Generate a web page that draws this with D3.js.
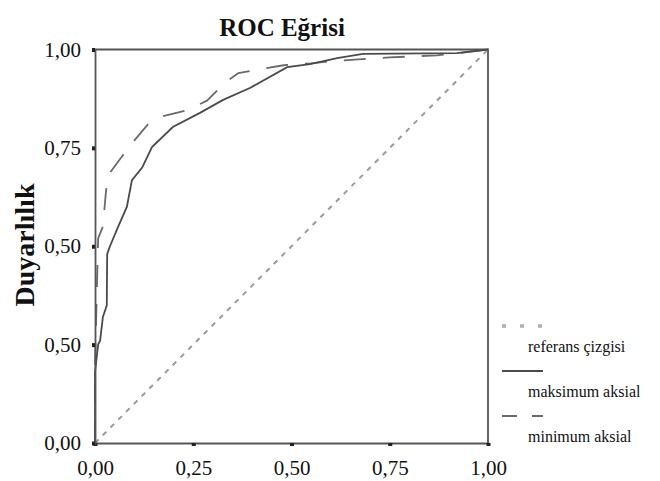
<!DOCTYPE html>
<html><head><meta charset="utf-8">
<script src="https://cdn.jsdelivr.net/npm/d3@7"></script>
<style>
body{margin:0;background:#fff;}
svg{display:block;}
</style></head>
<body>
<svg id="c" width="660" height="481"></svg>
<script>
// ---- data ----
const titleText = "ROC Eğrisi";
const yAxisTitle = "Duyarlılık";
const tickValues = [0, 0.25, 0.5, 0.75, 1];
const xTickLabels = ["0,00", "0,25", "0,50", "0,75", "1,00"];
const yTickLabels = ["0,00", "0,50", "0,50", "0,75", "1,00"];
const seriesNames = ["referans çizgisi", "maksimum aksial", "minimum aksial"];

const refFPR = [0, 1];
const refTPR = [0, 1];

const maxFPR = [0, 0, 0.008, 0.013, 0.02, 0.03, 0.031, 0.038, 0.059, 0.081, 0.094, 0.12, 0.145, 0.198, 0.267, 0.326, 0.394, 0.489, 0.547, 0.616, 0.682, 0.921, 1];
const maxTPR = [0, 0.18, 0.25, 0.26, 0.32, 0.35, 0.48, 0.50, 0.55, 0.60, 0.668, 0.70, 0.752, 0.803, 0.839, 0.872, 0.902, 0.955, 0.963, 0.978, 0.989, 0.991, 1];

const minFPR = [0, 0, 0.005, 0.008, 0.02, 0.028, 0.033, 0.07, 0.097, 0.135, 0.17, 0.235, 0.285, 0.33, 0.365, 0.42, 0.48, 0.55, 0.6, 0.67, 0.75, 0.82, 0.87, 0.92, 1];
const minTPR = [0, 0.20, 0.40, 0.52, 0.55, 0.64, 0.68, 0.73, 0.765, 0.81, 0.83, 0.846, 0.87, 0.915, 0.94, 0.95, 0.96, 0.965, 0.97, 0.975, 0.98, 0.983, 0.985, 0.99, 1];

// ---- drawing ----
const FONT = "'Liberation Serif', 'Times New Roman', serif";
const svg = d3.select("#c");
const x = d3.scaleLinear().domain([0, 1]).range([95, 488]);
const y = d3.scaleLinear().domain([0, 1]).range([443, 49.5]);

svg.append("path")
  .attr("d", `M${x(0)},${y(1)}H${x(1)}V${y(0)}`)
  .attr("fill", "none").attr("stroke", "#555").attr("stroke-width", 1.8);

const line = d3.line().x(d => x(d[0])).y(d => y(d[1]));

svg.append("path")
  .datum(refFPR.map((v, i) => [v, refTPR[i]]))
  .attr("d", line).attr("fill", "none")
  .attr("stroke", "#9a9a9a").attr("stroke-width", 2).attr("stroke-dasharray", "5,6");

svg.append("path")
  .datum(minFPR.map((v, i) => [v, minTPR[i]]))
  .attr("d", line).attr("fill", "none")
  .attr("stroke", "#6a6a6a").attr("stroke-width", 1.8).attr("stroke-dasharray", "22,17");

svg.append("path")
  .datum(maxFPR.map((v, i) => [v, maxTPR[i]]))
  .attr("d", line).attr("fill", "none")
  .attr("stroke", "#4a4a4a").attr("stroke-width", 1.8);

const xAxis = d3.axisBottom(x).tickValues(tickValues).tickSize(3).tickPadding(14)
  .tickFormat((d, i) => xTickLabels[i]);
const yAxis = d3.axisLeft(y).tickValues(tickValues).tickSize(3).tickPadding(11)
  .tickFormat((d, i) => yTickLabels[i]);

const gx = svg.append("g").attr("transform", `translate(0,${y(0)})`).call(xAxis);
const gy = svg.append("g").attr("transform", `translate(${x(0)},0)`).call(yAxis);
[gx, gy].forEach(g => {
  g.attr("font-family", null).attr("font-size", null);
  g.select(".domain").attr("stroke", "#555").attr("stroke-width", 1.8);
  g.selectAll(".tick line").attr("stroke", "#222").attr("stroke-width", 4);
  g.selectAll(".tick text").style("font-family", FONT).style("font-size", "21px").attr("fill", "#111");
});

svg.append("text").attr("x", 282).attr("y", 36).attr("text-anchor", "middle")
  .style("font-family", FONT).style("font-size", "25px").style("font-weight", "bold")
  .attr("fill", "#111").text(titleText);

svg.append("text").attr("transform", "translate(34,245) rotate(-90)")
  .attr("text-anchor", "middle").style("font-family", FONT).style("font-size", "28px")
  .style("font-weight", "bold").attr("fill", "#111").text(yAxisTitle);

const legStyles = [
  {stroke: "#b0b0b0", width: 3.5, dash: "4,14"},
  {stroke: "#4a4a4a", width: 1.8, dash: null},
  {stroke: "#6a6a6a", width: 1.8, dash: "15,15"}
];
const legY = [326, 371, 416];
const lg = svg.append("g");
seriesNames.forEach((name, i) => {
  const ln = lg.append("line").attr("x1", 502).attr("x2", 543).attr("y1", legY[i]).attr("y2", legY[i])
    .attr("stroke", legStyles[i].stroke).attr("stroke-width", legStyles[i].width);
  if (legStyles[i].dash) ln.attr("stroke-dasharray", legStyles[i].dash);
  lg.append("text").attr("x", 528).attr("y", legY[i] + 26)
    .style("font-family", FONT).style("font-size", "16px").attr("fill", "#111").text(name);
});
</script>
</body></html>
